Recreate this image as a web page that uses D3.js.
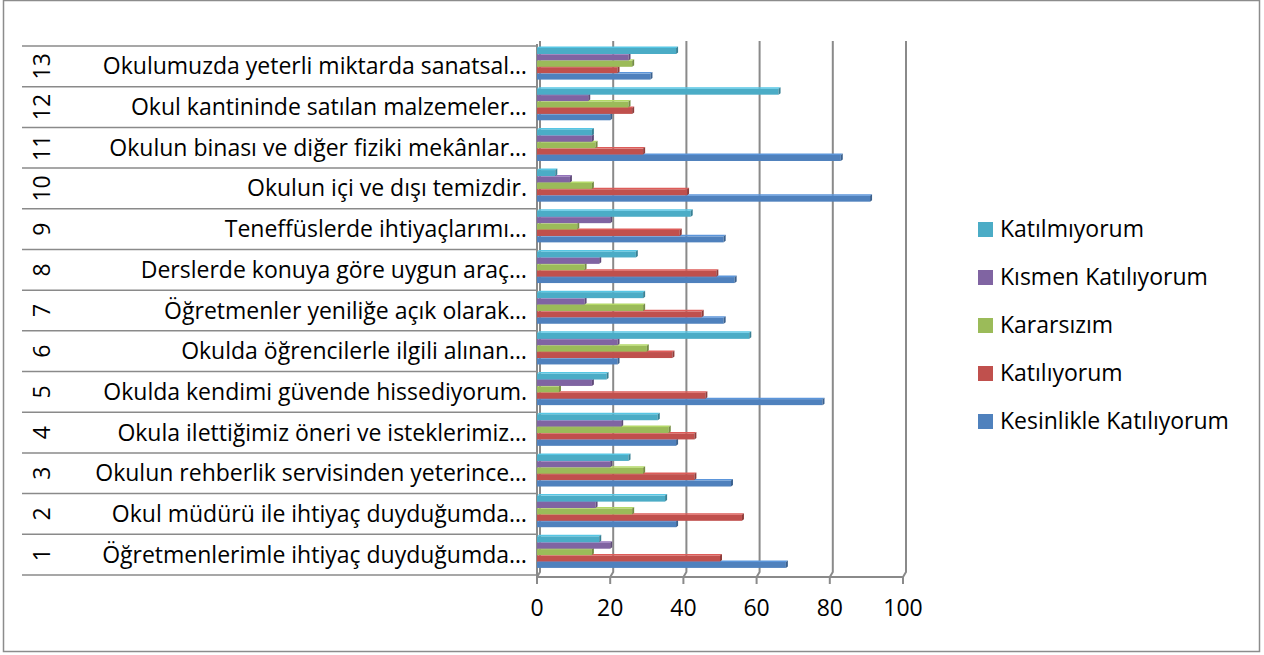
<!DOCTYPE html>
<html>
  <head>
    <meta charset="utf-8">
    <title></title>
    <script src="https://cdnjs.cloudflare.com/ajax/libs/d3/7.8.5/d3.min.js"></script>
    <style type="text/css">
        html, body{
            padding: 0px;
            margin: 0px;
            background: #fff;
        }
        svg text{
            font-family: "Open Sans", sans-serif;
            fill: #000;
        }
    </style>
  </head>
  <body>
    <div id="vis"></div>
    <script type="text/javascript">

        // categories, bottom (1) to top (13)
        var numbers = ["1","2","3","4","5","6","7","8","9","10","11","12","13"];
        var questions = [
            "Öğretmenlerimle ihtiyaç duyduğumda…",
            "Okul müdürü ile ihtiyaç duyduğumda…",
            "Okulun rehberlik servisinden yeterince…",
            "Okula ilettiğimiz öneri ve isteklerimiz…",
            "Okulda kendimi güvende hissediyorum.",
            "Okulda öğrencilerle ilgili alınan…",
            "Öğretmenler yeniliğe açık olarak…",
            "Derslerde konuya göre uygun araç…",
            "Teneffüslerde ihtiyaçlarımı…",
            "Okulun içi ve dışı temizdir.",
            "Okulun binası ve diğer fiziki mekânlar…",
            "Okul kantininde satılan malzemeler…",
            "Okulumuzda yeterli miktarda sanatsal…"
        ];

        var seriesNames = ["Kesinlikle Katılıyorum", "Katılıyorum", "Kararsızım", "Kısmen Katılıyorum", "Katılmıyorum"];
        var seriesColors = ["#4F81BD", "#C0504D", "#9BBB59", "#8064A2", "#4BACC6"];

        var kesinlikle = [68, 38, 53, 38, 78, 22, 51, 54, 51, 91, 83, 20, 31];
        var katiliyorum = [50, 56, 43, 43, 46, 37, 45, 49, 39, 41, 29, 26, 22];
        var kararsizim = [15, 26, 29, 36, 6, 30, 29, 13, 11, 15, 16, 25, 26];
        var kismen = [20, 16, 20, 23, 15, 22, 13, 17, 20, 9, 15, 14, 25];
        var katilmiyorum = [17, 35, 25, 33, 19, 58, 29, 27, 42, 5, 15, 66, 38];

        var xTicks = [0, 20, 40, 60, 80, 100];

        var seriesValues = [kesinlikle, katiliyorum, kararsizim, kismen, katilmiyorum];

        var width = 1264, height = 655;
        var fontSize = "23px";
        var svg = d3.select("#vis").append("svg")
            .attr("width", width)
            .attr("height", height);

        // outer frame
        svg.append("rect")
            .attr("x", 3.5).attr("y", 0.5)
            .attr("width", 1256).attr("height", 651)
            .attr("fill", "none")
            .attr("stroke", "#8c8c8c")
            .attr("stroke-width", 1.5);

        var x = d3.scaleLinear().domain([0, 100]).range([537, 903]);
        var y = d3.scaleBand()
            .domain(numbers.slice().reverse())
            .range([46, 575]);
        // inner band: top to bottom cyan, purple, green, red, blue
        var inner = d3.scaleBand()
            .domain([4, 3, 2, 1, 0])
            .range([2, 34]);

        var depth = 3;

        // back wall gridlines with floor bend
        var grid = svg.append("g");
        xTicks.forEach(function(v){
            grid.append("path")
                .attr("d", "M" + (x(v) + depth) + "," + 41 +
                           "L" + (x(v) + depth) + "," + 572 +
                           "L" + x(v) + "," + 577)
                .attr("fill", "none")
                .attr("stroke", "#8a8a8a")
                .attr("stroke-width", 2);
        });

        // front axis line + ticks
        svg.append("line")
            .attr("x1", x(0)).attr("x2", x(100))
            .attr("y1", 577).attr("y2", 577)
            .attr("stroke", "#8a8a8a").attr("stroke-width", 2);
        svg.append("line")
            .attr("x1", x(0)).attr("x2", x(0))
            .attr("y1", 44).attr("y2", 577)
            .attr("stroke", "#8a8a8a").attr("stroke-width", 2);
        xTicks.forEach(function(v){
            svg.append("line")
                .attr("x1", x(v)).attr("x2", x(v))
                .attr("y1", 577).attr("y2", 584)
                .attr("stroke", "#8a8a8a").attr("stroke-width", 2);
        });
        svg.selectAll(".xlab").data(xTicks).enter().append("text")
            .attr("x", function(d){ return x(d); })
            .attr("y", 616)
            .attr("text-anchor", "middle")
            .style("font-size", fontSize)
            .text(function(d){ return d; });

        // category table lines
        var lines = numbers.map(function(n){ return y(n); }).concat([575]);
        svg.selectAll(".catline").data(lines).enter().append("line")
            .attr("x1", 22).attr("x2", 537)
            .attr("y1", function(d){ return d; })
            .attr("y2", function(d){ return d; })
            .attr("stroke", "#8a8a8a").attr("stroke-width", 1.5);

        numbers.forEach(function(n, i){
            var cy = y(n) + y.bandwidth() / 2;
            svg.append("text")
                .attr("transform", "translate(50," + cy + ") rotate(-90)")
                .attr("text-anchor", "middle")
                .style("font-size", fontSize)
                .text(n);
            svg.append("text")
                .attr("x", 527)
                .attr("y", cy + 8)
                .attr("text-anchor", "end")
                .style("font-size", fontSize)
                .text(questions[i]);
        });

        // bars
        var bars = svg.append("g");
        numbers.forEach(function(n, i){
            seriesValues.forEach(function(vals, s){
                var by = y(n) + inner(s);
                var bh = inner.bandwidth() - 0.4;
                var x0 = x(0), x1 = x(vals[i]);
                var c = d3.color(seriesColors[s]);
                bars.append("rect")
                    .attr("x", x0).attr("y", by)
                    .attr("width", x1 - x0).attr("height", bh)
                    .attr("fill", seriesColors[s]);
                // top face
                bars.append("path")
                    .attr("d", "M" + x0 + "," + by + "L" + (x0 + 2) + "," + (by - 1.5) +
                               "L" + (x1 + 2) + "," + (by - 1.5) + "L" + x1 + "," + by + "Z")
                    .attr("fill", c.brighter(0.4));
                // end cap
                bars.append("path")
                    .attr("d", "M" + x1 + "," + by + "L" + (x1 + 2) + "," + (by - 1.5) +
                               "L" + (x1 + 2) + "," + (by + bh - 1.5) + "L" + x1 + "," + (by + bh) + "Z")
                    .attr("fill", c.darker(0.8));
            });
        });

        // legend, top to bottom
        var legendOrder = [4, 3, 2, 1, 0];
        legendOrder.forEach(function(s, k){
            var ly = 229 + k * 48;
            svg.append("rect")
                .attr("x", 978).attr("y", ly - 7)
                .attr("width", 15).attr("height", 15)
                .attr("fill", seriesColors[s]);
            svg.append("text")
                .attr("x", 1000).attr("y", ly + 8)
                .style("font-size", fontSize)
                .text(seriesNames[s]);
        });

    </script>
  </body>
</html>
